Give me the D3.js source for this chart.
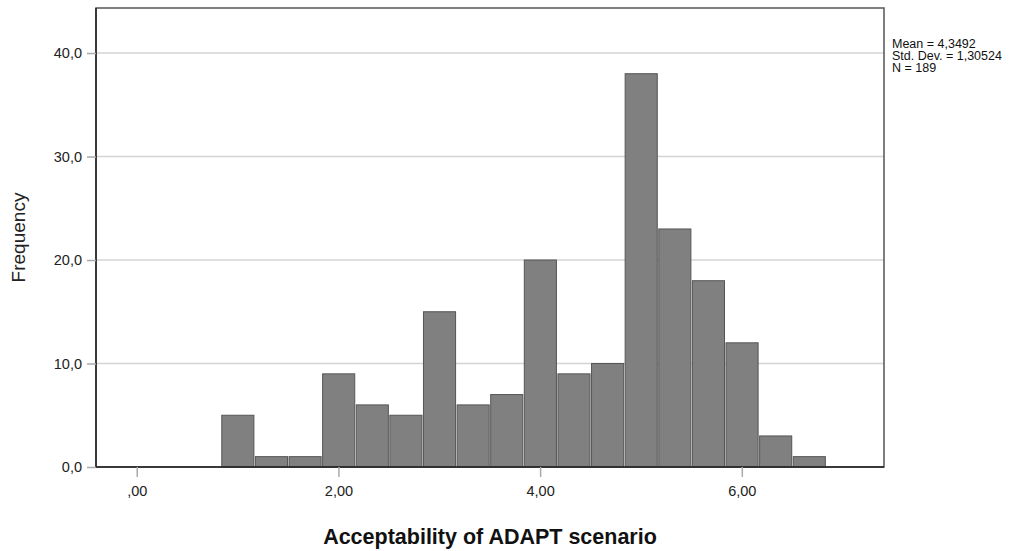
<!DOCTYPE html>
<style>
    body { margin: 0; background: #fff; font-family: 'Liberation Sans', Arial, sans-serif; }
    .grid line { stroke: #d4d4d4; stroke-width: 1.5; }
</style>
<svg width="1030" height="551"></svg>
<script src="https://d3js.org/d3.v7.min.js"></script>
<script>
    // histogram bins: lower edges (width 1/3) and counts
    var binStarts = [0.8333, 1.1667, 1.5, 1.8333, 2.1667, 2.5, 2.8333, 3.1667, 3.5, 3.8333, 4.1667, 4.5, 4.8333, 5.1667, 5.5, 5.8333, 6.1667, 6.5];
    var binWidth = 1 / 3;
    var counts = [5, 1, 1, 9, 6, 5, 15, 6, 7, 20, 9, 10, 38, 23, 18, 12, 3, 1];
    var xTicks = [0, 2, 4, 6];
    var yTicks = [0, 10, 20, 30, 40];
    var statsLines = ["Mean = 4,3492", "Std. Dev. = 1,30524", "N = 189"];

    var svg = d3.select("svg"),
        plotL = 96, plotR = 884, plotT = 8, plotB = 467;

    var x = d3.scaleLinear().domain([-0.404, 7.41]).range([plotL, plotR]);
    var y = d3.scaleLinear().domain([0, 44.35]).range([plotB, plotT]);

    var comma = function(d, n) { return d3.format("." + n + "f")(d).replace(".", ","); };

    // gridlines
    svg.append("g").attr("class", "grid")
        .selectAll("line").data(yTicks.slice(1)).enter().append("line")
        .attr("x1", plotL).attr("x2", plotR)
        .attr("y1", function(d) { return y(d); }).attr("y2", function(d) { return y(d); });

    // bars
    svg.append("g").selectAll("rect").data(counts).enter().append("rect")
        .attr("x", function(d, i) { return x(binStarts[i]) + 1; })
        .attr("y", function(d) { return y(d); })
        .attr("width", function(d, i) { return x(binStarts[i] + binWidth) - x(binStarts[i]) - 1.5; })
        .attr("height", function(d) { return y(0) - y(d); })
        .attr("fill", "#808080")
        .attr("stroke", "#555")
        .attr("stroke-width", 1);

    // frame
    svg.append("rect")
        .attr("x", plotL).attr("y", plotT)
        .attr("width", plotR - plotL).attr("height", plotB - plotT)
        .attr("fill", "none").attr("stroke", "#555").attr("stroke-width", 1.5);
    svg.append("line").attr("x1", plotL).attr("x2", plotR).attr("y1", plotB).attr("y2", plotB)
        .attr("stroke", "#222").attr("stroke-width", 1.5);
    svg.append("line").attr("x1", plotL).attr("x2", plotL).attr("y1", plotT).attr("y2", plotB)
        .attr("stroke", "#222").attr("stroke-width", 1.5);

    // y axis
    var yAxis = svg.append("g")
        .attr("transform", "translate(" + plotL + ",0)")
        .call(d3.axisLeft(y).tickValues(yTicks).tickSize(9).tickPadding(5)
            .tickFormat(function(d) { return comma(d, 1); }));
    yAxis.select(".domain").remove();
    yAxis.selectAll(".tick line").attr("stroke", "#aaa").attr("stroke-width", 1.5);
    yAxis.selectAll("text").attr("font-family", "'Liberation Sans', Arial, sans-serif")
        .attr("font-size", 14.5).attr("fill", "#222");

    // x axis
    var xAxis = svg.append("g")
        .attr("transform", "translate(0," + plotB + ")")
        .call(d3.axisBottom(x).tickValues(xTicks).tickSize(10).tickPadding(9)
            .tickFormat(function(d) { return d === 0 ? ",00" : comma(d, 2); }));
    xAxis.select(".domain").remove();
    xAxis.selectAll(".tick line").attr("stroke", "#aaa").attr("stroke-width", 1.5);
    xAxis.selectAll("text").attr("font-family", "'Liberation Sans', Arial, sans-serif")
        .attr("font-size", 14.5).attr("fill", "#222");

    // axis titles
    svg.append("text")
        .attr("x", 490).attr("y", 544)
        .attr("text-anchor", "middle")
        .attr("font-size", 21.5).attr("font-weight", "bold").attr("fill", "#111")
        .text("Acceptability of ADAPT scenario");

    svg.append("text")
        .attr("transform", "translate(25," + ((plotT + plotB) / 2) + ") rotate(-90)")
        .attr("text-anchor", "middle")
        .attr("font-size", 19).attr("fill", "#222")
        .text("Frequency");

    // stats box
    svg.append("g").selectAll("text").data(statsLines).enter().append("text")
        .attr("x", 892).attr("y", function(d, i) { return 48 + i * 12; })
        .attr("font-size", 12.5).attr("fill", "#111")
        .text(function(d) { return d; });
</script>
